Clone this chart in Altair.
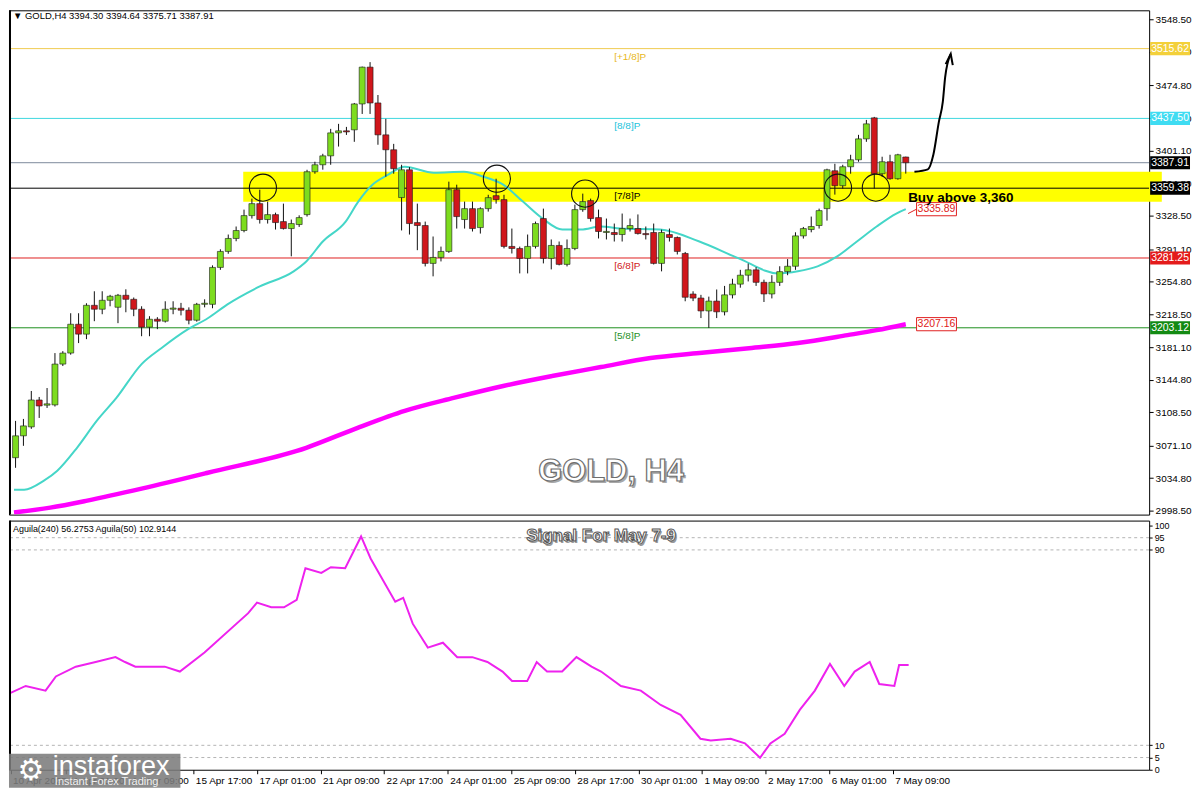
import altair as alt
import pandas as pd

# ---------------- data ----------------
opens = [3057.7, 3082.2, 3092.2, 3122.3, 3116.5, 3116.8, 3162.5, 3174.8, 3207.1, 3196.0,
         3228.3, 3223.9, 3233.9, 3226.1, 3239.5, 3235.0, 3223.9, 3203.8, 3212.7, 3210.5,
         3223.9, 3225.0, 3222.8, 3211.6, 3229.4, 3229.4, 3270.7, 3288.6, 3303.1, 3312.0,
         3328.7, 3342.1, 3324.3, 3329.8, 3322.0, 3314.2, 3318.7, 3329.8, 3377.8, 3385.6,
         3395.6, 3421.3, 3423.6, 3424.7, 3453.7, 3494.9, 3454.8, 3419.1, 3402.4, 3348.9,
         3380.0, 3320.9, 3317.6, 3275.2, 3281.9, 3288.6, 3357.7, 3324.3, 3336.5, 3315.3,
         3336.5, 3351.0, 3346.6, 3294.2, 3291.9, 3280.8, 3294.2, 3325.4, 3280.8, 3295.3,
         3274.1, 3291.9, 3335.4, 3345.5, 3326.5, 3309.8, 3309.8, 3307.5, 3314.2, 3314.2,
         3308.6, 3309.8, 3275.2, 3307.5, 3304.2, 3286.3, 3240.9, 3236.4, 3222.0, 3233.0,
         3221.0, 3240.0, 3252.0, 3262.0, 3268.0, 3254.0, 3241.0, 3254.0, 3266.0, 3272.0,
         3306.0, 3313.1, 3317.6, 3336.5, 3378.9, 3362.2, 3383.4, 3391.2, 3414.6, 3438.1,
         3375.6, 3389.0, 3370.0, 3394.30]
highs = [3098.9, 3101.1, 3132.4, 3125.7, 3135.7, 3174.8, 3177.0, 3219.4, 3219.4, 3230.6,
         3244.0, 3244.0, 3240.0, 3241.0, 3246.2, 3237.0, 3227.2, 3216.1, 3215.0, 3232.8,
         3232.8, 3231.0, 3226.0, 3231.0, 3235.0, 3273.0, 3291.0, 3307.5, 3316.5, 3335.4,
         3347.7, 3357.7, 3344.4, 3332.0, 3342.1, 3324.3, 3329.0, 3380.0, 3389.0, 3397.9,
         3425.8, 3431.4, 3428.0, 3454.8, 3495.5, 3500.5, 3463.7, 3437.0, 3409.0, 3385.6,
         3383.0, 3342.1, 3322.0, 3305.3, 3294.0, 3366.7, 3363.3, 3344.4, 3344.4, 3338.0,
         3352.0, 3370.0, 3352.0, 3314.2, 3294.0, 3307.5, 3322.0, 3336.5, 3302.0, 3299.7,
         3302.0, 3341.0, 3353.3, 3347.7, 3335.4, 3325.4, 3319.8, 3331.0, 3325.4, 3330.0,
         3316.5, 3319.8, 3313.0, 3314.2, 3305.3, 3288.0, 3244.0, 3240.0, 3238.0, 3246.0,
         3250.0, 3258.0, 3268.0, 3275.0, 3271.0, 3257.0, 3262.0, 3272.0, 3280.0, 3310.0,
         3316.0, 3327.6, 3336.5, 3381.2, 3386.7, 3385.6, 3396.8, 3419.1, 3435.8, 3439.2,
         3394.6, 3396.8, 3397.9, 3394.64]
lows = [3046.4, 3071.0, 3090.0, 3102.2, 3113.4, 3115.0, 3160.3, 3173.0, 3186.0, 3190.4,
        3210.5, 3218.3, 3227.2, 3208.3, 3220.5, 3216.1, 3193.7, 3193.7, 3201.6, 3209.0,
        3218.3, 3217.0, 3207.0, 3210.0, 3226.0, 3225.0, 3268.0, 3286.0, 3300.0, 3310.0,
        3325.4, 3319.8, 3319.8, 3313.1, 3313.1, 3283.1, 3316.0, 3327.6, 3375.6, 3380.1,
        3385.6, 3406.0, 3419.0, 3411.3, 3442.5, 3442.5, 3408.0, 3372.2, 3375.6, 3312.1,
        3307.5, 3290.0, 3271.8, 3260.7, 3277.4, 3287.0, 3314.2, 3314.2, 3310.9, 3308.6,
        3333.2, 3342.1, 3292.0, 3286.3, 3264.0, 3264.0, 3291.9, 3275.2, 3268.5, 3273.0,
        3271.8, 3290.0, 3333.0, 3322.0, 3303.1, 3302.0, 3299.7, 3299.7, 3310.9, 3307.5,
        3302.0, 3274.0, 3266.3, 3299.7, 3285.2, 3232.8, 3233.0, 3214.0, 3203.0, 3214.0,
        3217.0, 3236.0, 3248.0, 3255.0, 3250.0, 3232.0, 3236.0, 3250.0, 3262.0, 3268.0,
        3303.0, 3310.0, 3314.2, 3323.1, 3352.2, 3358.9, 3375.6, 3389.0, 3411.3, 3358.9,
        3372.2, 3368.9, 3368.9, 3375.71]
closes = [3082.2, 3093.3, 3122.3, 3115.6, 3118.0, 3162.5, 3174.8, 3207.1, 3196.0, 3228.3,
          3223.9, 3233.9, 3238.4, 3239.5, 3235.0, 3223.9, 3203.8, 3212.7, 3210.5, 3223.9,
          3225.2, 3222.8, 3211.6, 3229.4, 3230.6, 3270.7, 3288.6, 3303.1, 3312.0, 3328.7,
          3342.1, 3324.3, 3329.8, 3320.9, 3314.2, 3319.8, 3326.5, 3377.8, 3385.6, 3395.6,
          3421.3, 3423.6, 3422.4, 3453.7, 3494.9, 3454.8, 3419.1, 3402.4, 3381.2, 3380.0,
          3319.8, 3317.6, 3275.2, 3281.9, 3288.6, 3357.7, 3327.6, 3336.5, 3314.2, 3336.5,
          3348.8, 3346.6, 3294.2, 3291.9, 3280.8, 3294.2, 3319.8, 3280.8, 3295.3, 3274.1,
          3291.9, 3335.4, 3344.4, 3325.4, 3310.9, 3311.0, 3307.5, 3314.2, 3317.6, 3308.6,
          3307.4, 3275.2, 3309.8, 3304.2, 3288.6, 3237.3, 3236.4, 3222.0, 3233.0, 3221.0,
          3240.0, 3252.0, 3262.0, 3268.0, 3254.0, 3241.0, 3254.0, 3266.0, 3272.0, 3306.0,
          3314.2, 3316.5, 3334.3, 3380.0, 3362.2, 3383.4, 3391.2, 3414.6, 3431.4, 3375.6,
          3389.0, 3370.0, 3396.8, 3387.91]

ma21_i = [-0.2, 1.1, 3.6, 5.3, 7.8, 10.3, 12.8, 16.0, 18.5, 21.9, 24.4, 26.9, 31.0, 35.3,
          36.9, 39.0, 41.9, 43.5, 45.3, 47.3, 49.4, 53.1, 56.9, 59.4, 61.9, 64.4, 66.9,
          69.4, 71.8, 74.3, 76.8, 81.8, 86.8, 91.8, 96.8, 99.3, 101.8, 104.3, 106.8, 109.3,
          111.8, 113.0]
ma21_p = [3021.9, 3021.9, 3032.0, 3043.1, 3068.8, 3098.9, 3124.6, 3162.5, 3180.3, 3201.6,
          3213.8, 3229.4, 3249.5, 3266.3, 3277.4, 3299.7, 3322.0, 3344.4, 3363.3, 3374.5,
          3383.4, 3376.7, 3377.8, 3372.2, 3363.3, 3344.4, 3325.4, 3313.1, 3313.1, 3316.5,
          3314.2, 3313.1, 3299.7, 3280.8, 3264.0, 3266.3, 3271.8, 3283.0, 3299.7, 3316.5,
          3331.0, 3335.89]
ma200_i = [-0.2, 4.4, 9.1, 16.0, 24.4, 36.9, 43.1, 49.4, 55.6, 61.9, 68.1, 74.3, 80.6,
           86.8, 93.1, 99.3, 105.6, 109.3, 113.0]
ma200_p = [2996.3, 3001.8, 3009.7, 3023.1, 3040.9, 3068.8, 3090.0, 3110.1, 3124.6, 3138.0,
           3149.1, 3159.2, 3169.2, 3174.8, 3180.3, 3186.0, 3194.9, 3200.5, 3207.16]

ind_i = [-0.2, 1.9, 4.4, 5.7, 8.2, 10.7, 13.2, 14.4, 15.7, 19.4, 21.3, 24.4, 29.9, 31.0,
         32.8, 34.4, 36.0, 37.1, 39.1, 40.3, 42.1, 44.1, 45.3, 48.4, 49.4, 50.6, 52.5, 54.4,
         56.2, 58.1, 60.0, 61.9, 63.1, 65.0, 66.2, 67.5, 69.4, 71.2, 73.1, 74.3, 76.8, 79.3,
         81.8, 84.3, 86.8, 88.1, 90.6, 92.4, 94.3, 95.6, 97.4, 99.3, 101.2, 103.1, 104.9,
         106.2, 108.1, 109.3, 111.2, 111.8, 113.0]
ind_v = [31.2, 34.3, 32.4, 38.2, 42.2, 44.1, 46.1, 44.1, 42.2, 42.2, 40.2, 48.0, 64.1, 68.4,
         66.5, 66.5, 69.6, 82.5, 80.6, 82.9, 82.5, 95.5, 86.5, 68.8, 70.4, 59.8, 50.0, 52.0,
         46.1, 46.1, 44.1, 40.2, 36.3, 36.3, 44.1, 40.2, 40.2, 46.1, 42.2, 40.2, 34.3, 32.4,
         26.5, 22.5, 12.7, 12.0, 12.7, 10.8, 4.9, 10.8, 14.7, 24.5, 32.4, 43.3, 34.3, 40.2,
         44.1, 35.1, 34.3, 42.9, 42.9]

tick_idx = [0, 7, 15, 23, 31, 39, 47, 55, 63, 71, 79, 87, 95, 103, 111]
tick_lab = ["10 Apr 2025", "11 Apr 01:00", "14 Apr 09:00", "15 Apr 17:00", "17 Apr 01:00",
            "21 Apr 09:00", "22 Apr 17:00", "24 Apr 01:00", "25 Apr 09:00", "28 Apr 17:00",
            "30 Apr 01:00", "1 May 09:00", "2 May 17:00", "6 May 01:00", "7 May 09:00"]
price_ticks = [3548.50, 3512.20, 3474.80, 3437.50, 3401.10, 3364.80, 3328.50, 3291.10,
               3254.80, 3218.50, 3181.10, 3144.80, 3108.50, 3071.10, 3034.80, 2998.50]
ind_ticks = [0, 5, 10, 90, 95, 100]
ind_levels = [95, 90, 10, 5]

level_price = [3515.62, 3437.50, 3359.38, 3281.25, 3203.12]
level_name = ["[+1/8]P", "[8/8]P", "[7/8]P", "[6/8]P", "[5/8]P"]
level_color = ["#f0cc50", "#3fd8e0", "#000000", "#e02020", "#1e8f1e"]
level_text_color = ["#e8b820", "#22c4dc", "#000000", "#d01818", "#1e8f1e"]
cur_price = [3387.91]

tag_price = [3515.62, 3437.50, 3387.91, 3359.38, 3281.25, 3203.12]
tag_text = ["3515.62", "3437.50", "3387.91", "3359.38", "3281.25", "3203.12"]
tag_bg = ["#f3d03a", "#3fdcf2", "#000000", "#000000", "#e41b1b", "#138a13"]

ma_tag_price = [3335.89, 3207.16]
ma_tag_text = ["3335.89", "3207.16"]
ma_tag_i = [116.9, 116.9]
conn_i = [113.3, 114.5]
conn_p = [3331.0, 3336.5]

circle_i = [31.4, 61.1, 72.3, 104.4, 109.2]
circle_p = [3360.0, 3370.0, 3353.3, 3360.0, 3360.0]

arrow_i = [114.1, 115.8, 116.5, 117.2, 117.7, 118.0, 118.7]
arrow_p = [3377.8, 3380.5, 3396.8, 3433.6, 3455.9, 3483.8, 3509.5]
arrow_head = [118.6, 3503.0]

band_i = [28.9, 145.5]
band_p = [3344.3, 3377.8]

buy_text = ["Buy above 3,360", 113.3, 3348.8]
watermark = ["GOLD, H4", 75.6, 3042.1]
signal_text = ["Signal For May 7-9", 74.3, 95.6]
header_text = "\u25bc GOLD,H4  3394.30 3394.64 3375.71 3387.91"
aguila_text = "Aguila(240) 56.2753  Aguila(50) 102.9144"

# ---------------- layout ----------------
W = 1144
H_MAIN = 506
H_IND = 250
FONT = "Liberation Sans"

XS = alt.Scale(domain=[-0.2, 143.26], nice=False, zero=False)
YS = alt.Scale(domain=[2994.0, 3558.5], nice=False, zero=False)
YI = alt.Scale(domain=[0, 102], nice=False, zero=False)

Y_AXIS = alt.Axis(orient="right", values=price_ticks, format=".2f", grid=False, domain=False,
                  tickSize=4, tickColor="black", labelFont=FONT, labelFontSize=10,
                  labelColor="black", labelPadding=2, labelOverlap=False, labelFlush=False)
label_expr = "".join(f"datum.value == {i} ? '{t}' : " for i, t in zip(tick_idx, tick_lab)) + "''"
X_AXIS_IND = alt.Axis(values=tick_idx, labelExpr=label_expr, grid=False, domain=False,
                      tickSize=4, tickColor="black", labelAlign="left", labelOffset=2,
                      labelFont=FONT, labelFontSize=10, labelColor="black", labelPadding=2,
                      labelOverlap=False, labelFlush=False)
YI_AXIS = alt.Axis(orient="right", values=ind_ticks, grid=False, domain=False, tickSize=3,
                   tickColor="black", labelFont=FONT, labelFontSize=9, labelColor="black",
                   labelPadding=2, labelOverlap=False, labelFlush=False)


def xm(field="i"):
    return alt.X(f"{field}:Q", scale=XS, axis=None, title=None)


def ym(field="p"):
    return alt.Y(f"{field}:Q", scale=YS, axis=Y_AXIS, title=None)


one = pd.DataFrame({"a": [0]})

candles = pd.DataFrame({
    "i": list(range(len(opens))), "o": opens, "h": highs, "l": lows, "c": closes,
    "col": ["#7ddc1f" if c >= o else "#d0161b" for o, c in zip(opens, closes)],
})

band = alt.Chart(pd.DataFrame({"i": [band_i[0]], "i2": [band_i[1]],
                               "p": [band_p[0]], "p2": [band_p[1]]})).mark_rect(
    color="#ffff00", opacity=1).encode(x=xm(), x2="i2:Q", y=ym(), y2="p2:Q")

levels_df = pd.DataFrame({"p": level_price, "name": level_name, "col": level_color,
                          "tcol": level_text_color, "i": [76.0] * len(level_price)})
level_rules = alt.Chart(levels_df).mark_rule(strokeWidth=1, clip=True).encode(
    y=ym(), color=alt.Color("col:N", scale=None))
cur_rule = alt.Chart(pd.DataFrame({"p": cur_price})).mark_rule(
    strokeWidth=1, color="#7d8a9c", clip=True).encode(y=ym())
level_labels = alt.Chart(levels_df).mark_text(
    align="left", baseline="middle", dy=8, font=FONT, fontSize=10).encode(
    x=xm(), y=ym(), text="name:N", color=alt.Color("tcol:N", scale=None))

ma200 = alt.Chart(pd.DataFrame({"i": ma200_i, "p": ma200_p})).mark_line(
    color="#ff00ff", strokeWidth=4.5, interpolate="monotone", clip=True).encode(x=xm(), y=ym())
ma21 = alt.Chart(pd.DataFrame({"i": ma21_i, "p": ma21_p})).mark_line(
    color="#45d6c8", strokeWidth=2, interpolate="monotone", clip=True).encode(x=xm(), y=ym())

wicks = alt.Chart(candles).mark_rule(color="#111111", strokeWidth=1).encode(
    x=xm(), y=ym("l"), y2="h:Q")
bodies = alt.Chart(candles).mark_bar(size=6, stroke="#1a1a1a", strokeWidth=0.6).encode(
    x=xm(), y=ym("o"), y2="c:Q", color=alt.Color("col:N", scale=None))

circles = alt.Chart(pd.DataFrame({"i": circle_i, "p": circle_p})).mark_point(
    shape="circle", filled=False, size=740, color="#111111", strokeWidth=1.1, opacity=1).encode(
    x=xm(), y=ym())

arrow = alt.Chart(pd.DataFrame({"i": arrow_i, "p": arrow_p})).mark_line(
    color="black", strokeWidth=2, interpolate="monotone").encode(x=xm(), y=ym())
arrow_tip = alt.Chart(pd.DataFrame({"i": [arrow_head[0]], "p": [arrow_head[1]]})).mark_point(
    shape="M-0.6,0.8L0,-1L0.6,0.8", filled=False, size=144, color="black",
    strokeWidth=2, angle=8, opacity=1).encode(x=xm(), y=ym())

buy = alt.Chart(pd.DataFrame({"t": [buy_text[0]], "i": [buy_text[1]], "p": [buy_text[2]]})).mark_text(
    align="left", baseline="middle", font=FONT, fontSize=13.5, fontWeight="bold",
    color="black").encode(x=xm(), y=ym(), text="t:N")

wm_df = pd.DataFrame({"t": [watermark[0]], "i": [watermark[1]], "p": [watermark[2]]})
wm_shadow = alt.Chart(wm_df).mark_text(
    align="center", baseline="middle", font=FONT, fontSize=31, fontWeight="bold",
    color="#a8a8a8", dx=2, dy=2).encode(x=xm(), y=ym(), text="t:N")
wm_main = alt.Chart(wm_df).mark_text(
    align="center", baseline="middle", font=FONT, fontSize=31, fontWeight="bold",
    color="white", stroke="#6e6e6e", strokeWidth=1.2).encode(x=xm(), y=ym(), text="t:N")

header = alt.Chart(one).mark_text(
    align="left", baseline="top", font=FONT, fontSize=9.5, color="black").encode(
    x=alt.value(4), y=alt.value(1), text=alt.value(header_text))

TAG = "M-1,-0.33L1,-0.33L1,0.33L-1,0.33Z"
tags_df = pd.DataFrame({"p": tag_price, "t": tag_text, "bg": tag_bg})
tag_box = alt.Chart(tags_df).mark_point(
    shape=TAG, size=1600, filled=True, opacity=1, strokeWidth=0).encode(
    x=alt.value(W + 21), y=ym(), color=alt.Color("bg:N", scale=None))
tag_txt = alt.Chart(tags_df).mark_text(
    align="center", baseline="middle", font=FONT, fontSize=10.5, color="white").encode(
    x=alt.value(W + 21), y=ym(), text="t:N")

ma_tags_df = pd.DataFrame({"i": ma_tag_i, "p": ma_tag_price, "t": ma_tag_text})
conn = alt.Chart(pd.DataFrame({"i": conn_i, "p": conn_p})).mark_line(
    color="#e02020", strokeWidth=1).encode(x=xm(), y=ym())
ma_tag_box = alt.Chart(ma_tags_df).mark_point(
    shape=TAG, size=1600, filled=False, opacity=1, color="#e02020", fill="white",
    fillOpacity=1, strokeWidth=1).encode(x=xm(), y=ym())
ma_tag_txt = alt.Chart(ma_tags_df).mark_text(
    align="center", baseline="middle", font=FONT, fontSize=10.5, color="#e02020").encode(
    x=xm(), y=ym(), text="t:N")

left_bar = alt.Chart(one).mark_rect(color="black").encode(
    x=alt.value(0), x2=alt.value(2), y=alt.value(0), y2=alt.value(H_MAIN))

main = alt.layer(
    band, level_rules, cur_rule, level_labels, ma200, ma21, wicks, bodies, circles,
    arrow, arrow_tip, conn, ma_tag_box, ma_tag_txt, buy, wm_shadow, wm_main, header,
    tag_box, tag_txt, left_bar,
).properties(width=W, height=H_MAIN)

# ---------------- indicator panel ----------------
def xi(field="i"):
    return alt.X(f"{field}:Q", scale=XS, axis=X_AXIS_IND, title=None)


def yi(field="v"):
    return alt.Y(f"{field}:Q", scale=YI, axis=YI_AXIS, title=None)


ind_rules = alt.Chart(pd.DataFrame({"v": ind_levels})).mark_rule(
    color="#b4b4b4", strokeDash=[3, 3], strokeWidth=1, clip=True).encode(y=yi())
ind_line = alt.Chart(pd.DataFrame({"i": ind_i, "v": ind_v})).mark_line(
    color="#ee22ee", strokeWidth=2, clip=True).encode(x=xi(), y=yi())
aguila = alt.Chart(one).mark_text(
    align="left", baseline="middle", font=FONT, fontSize=9, color="black").encode(
    x=alt.value(4), y=alt.value(8), text=alt.value(aguila_text))
sig_df = pd.DataFrame({"t": [signal_text[0]], "i": [signal_text[1]], "v": [signal_text[2]]})
sig_shadow = alt.Chart(sig_df).mark_text(
    align="center", baseline="middle", font=FONT, fontSize=17, fontWeight="bold",
    color="#9a9a9a", dx=1.5, dy=1.5).encode(x=xi(), y=yi(), text="t:N")
sig_main = alt.Chart(sig_df).mark_text(
    align="center", baseline="middle", font=FONT, fontSize=17, fontWeight="bold",
    color="white", stroke="#555555", strokeWidth=1).encode(x=xi(), y=yi(), text="t:N")

logo_box = alt.Chart(one).mark_rect(color="#7c7c7c", opacity=0.88).encode(
    x=alt.value(0), x2=alt.value(172), y=alt.value(234), y2=alt.value(268))
logo_gear = alt.Chart(one).mark_text(
    align="center", baseline="middle", font="DejaVu Sans", fontSize=30, color="white").encode(
    x=alt.value(22), y=alt.value(251), text=alt.value("\u2699"))
logo_name = alt.Chart(one).mark_text(
    align="left", baseline="middle", font=FONT, fontSize=27, color="white").encode(
    x=alt.value(44), y=alt.value(247), text=alt.value("instaforex"))
logo_sub = alt.Chart(one).mark_text(
    align="left", baseline="middle", font=FONT, fontSize=11, color="#f0f0f0").encode(
    x=alt.value(46), y=alt.value(262), text=alt.value("Instant Forex Trading"))
left_bar2 = alt.Chart(one).mark_rect(color="black").encode(
    x=alt.value(0), x2=alt.value(2), y=alt.value(0), y2=alt.value(H_IND))

lower = alt.layer(
    ind_rules, ind_line, aguila, sig_shadow, sig_main, left_bar2,
    logo_box, logo_gear, logo_name, logo_sub,
).properties(width=W, height=H_IND)

chart = alt.vconcat(main, lower, spacing=3).properties(
    padding=0, background="white"
).configure_view(stroke="black", strokeWidth=1)

chart.save("out.html", embed_options={"renderer": "svg", "actions": False})
